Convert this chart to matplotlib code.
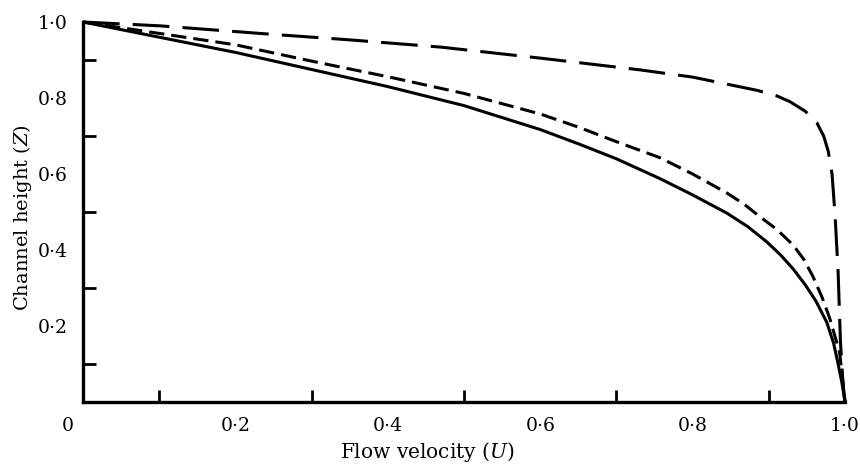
import matplotlib
matplotlib.use("Agg")
import matplotlib.pyplot as plt

plt.rcParams['font.family'] = ['DejaVu Serif']
plt.rcParams['mathtext.fontset'] = 'custom'
plt.rcParams['mathtext.it'] = 'DejaVu Serif:italic'
plt.rcParams['mathtext.rm'] = 'DejaVu Serif'

# Solid curve
u_solid = [0.0, 0.1, 0.2, 0.3, 0.4, 0.5, 0.6, 0.652, 0.7, 0.757, 0.8, 0.845, 0.872,
           0.897, 0.915, 0.932, 0.948, 0.962, 0.976, 0.985, 0.991, 0.996, 1.0]
z_solid = [1.0, 0.96, 0.92, 0.875, 0.83, 0.78, 0.717, 0.678, 0.64, 0.588, 0.545, 0.497, 0.462,
           0.422, 0.388, 0.35, 0.308, 0.265, 0.21, 0.155, 0.10, 0.05, 0.0]

# Short-dashed curve
u_short = [0.0, 0.1, 0.2, 0.3, 0.4, 0.5, 0.6, 0.652, 0.7, 0.757, 0.8, 0.845,
           0.868, 0.888, 0.91, 0.932, 0.946, 0.958, 0.97, 0.98, 0.993, 1.0]
z_short = [1.0, 0.97, 0.94, 0.897, 0.856, 0.812, 0.758, 0.722, 0.685, 0.643, 0.6, 0.55,
           0.52, 0.488, 0.455, 0.413, 0.375, 0.33, 0.275, 0.22, 0.13, 0.0]

# Long-dashed curve
u_long = [0.0, 0.1, 0.245, 0.35, 0.469, 0.6, 0.731, 0.8, 0.885, 0.91, 0.928, 0.948,
          0.963, 0.972, 0.978, 0.983, 0.987, 0.991, 0.994, 0.997, 1.0]
z_long = [1.0, 0.99, 0.968, 0.953, 0.934, 0.905, 0.874, 0.855, 0.82, 0.806, 0.79, 0.765,
          0.735, 0.70, 0.66, 0.60, 0.49, 0.34, 0.16, 0.06, 0.0]

x_ticks = [0.2, 0.4, 0.6, 0.8, 1.0]
x_ticklabels = ['0·2', '0·4', '0·6', '0·8', '1·0']
y_ticks = [0.2, 0.4, 0.6, 0.8, 1.0]
y_ticklabels = ['0·2', '0·4', '0·6', '0·8', '1·0']
minor_ticks = [0.1, 0.2, 0.3, 0.4, 0.5, 0.6, 0.7, 0.8, 0.9]

W, H = 860, 466
fig = plt.figure(figsize=(W / 100, H / 100), dpi=100)
ax = fig.add_axes([83 / W, 1 - 402 / H, 762 / W, 380 / H])

lw = 2.2
ax.plot(u_solid, z_solid, color='black', lw=lw, solid_capstyle='butt', clip_on=False)
ax.plot(u_short, z_short, color='black', lw=lw, dashes=(5, 2.3), clip_on=False)
ax.plot(u_long, z_long, color='black', lw=lw, dashes=(12, 4.3), clip_on=False)

ax.set_xlim(0, 1)
ax.set_ylim(0, 1)
for s in ['top', 'right']:
    ax.spines[s].set_visible(False)
for s in ['left', 'bottom']:
    ax.spines[s].set_linewidth(2.4)

ax.set_xticks(x_ticks)
ax.set_xticklabels(x_ticklabels)
ax.set_yticks(y_ticks)
ax.set_yticklabels(y_ticklabels)
ax.set_xticks(minor_ticks, minor=True)
ax.set_yticks(minor_ticks, minor=True)
ax.tick_params(which='major', direction='in', length=0, labelsize=13.5, pad=11)
ax.tick_params(which='minor', direction='in', length=9, width=2.0)

ax.text(68 / W, 1 - 426 / H, '0', transform=fig.transFigure, ha='center', va='center', fontsize=13.5)

fig.text(427 / W, 1 - 452 / H, 'Flow velocity ($U$)', ha='center', va='center', fontsize=14.5)
fig.text(23 / W, 1 - 218 / H, 'Channel height ($Z$)', ha='center', va='center',
         rotation=90, fontsize=14)

fig.savefig('out.png', dpi=100)
